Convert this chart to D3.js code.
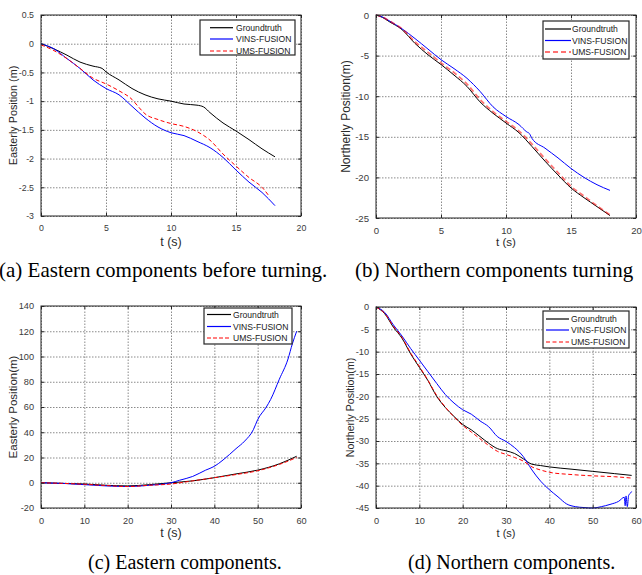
<!DOCTYPE html>
<html>
<head>
<meta charset="utf-8">
<script src="https://cdn.jsdelivr.net/npm/d3@7"></script>
<style>
  body { margin: 0; background: #fff; }
  svg { display: block; }
</style>
</head>
<body>
<div id="chart"></div>
<script>
// ---------------- data ----------------
// (a) easterly position before turning
const tA = [0, 1, 2, 3, 4, 4.7, 5, 6, 7, 8, 9, 10, 11, 12, 12.5, 13, 14, 15, 16, 17, 18];
const gtA = [0, -0.09, -0.2, -0.32, -0.39, -0.43, -0.49, -0.63, -0.78, -0.89, -0.96, -1.0, -1.05, -1.07, -1.1, -1.2, -1.38, -1.52, -1.67, -1.83, -1.97];
const tVinsA = [0, 1, 2, 3, 4, 5, 6, 7, 8, 9, 10, 11, 12, 13, 14, 15, 16, 17, 18];
const vinsA = [0, -0.09, -0.26, -0.43, -0.63, -0.78, -0.89, -1.09, -1.29, -1.45, -1.55, -1.6, -1.7, -1.81, -1.98, -2.2, -2.41, -2.59, -2.82];
const tUmsA = [0, 1, 2, 3, 4, 5, 6, 7, 7.5, 8, 9, 10, 11, 12, 13, 14, 15, 16, 17, 17.6];
const umsA = [-0.02, -0.12, -0.26, -0.43, -0.6, -0.7, -0.82, -0.97, -1.1, -1.22, -1.32, -1.39, -1.44, -1.53, -1.68, -1.92, -2.13, -2.33, -2.5, -2.67];

// (b) northerly position
const tB = [0, 0.5, 1, 2, 3, 4, 5, 6, 7, 8, 9, 10, 11, 12, 13, 14, 15, 16, 17, 18];
const gtB = [0, -0.3, -0.8, -1.8, -3.5, -4.9, -6.1, -7.4, -8.8, -10.7, -12.1, -13.3, -14.5, -16.2, -18, -19.7, -21.3, -22.5, -23.6, -24.7];
const umsB = [0, -0.25, -0.7, -1.7, -3.3, -4.6, -5.9, -7.1, -8.5, -10.4, -11.9, -13.1, -14.3, -15.9, -17.7, -19.4, -21.1, -22.3, -23.5, -24.6];
const tVinsB = [0, 0.5, 1, 2, 3, 4, 5, 6, 7, 8, 9, 10, 11, 11.6, 11.8, 12, 13, 14, 15, 16, 17, 18];
const vinsB = [0, -0.25, -0.7, -1.7, -2.9, -4.2, -5.5, -6.6, -7.8, -9.4, -11.3, -12.5, -13.5, -14.4, -14.6, -15.2, -16.4, -17.6, -18.9, -20, -20.9, -21.6];

// (c) easterly position
const tC = [0, 5, 10, 15, 20, 25, 30, 35, 40, 45, 50, 55, 59];
const gtC = [0, -0.5, -1, -2, -2.5, -1.5, 0, 1.5, 4, 7, 10, 15, 21];
const umsC = [0, -0.5, -1.2, -2.2, -3, -2, -1, 1.5, 4, 6.5, 9.5, 14.5, 20];
const tVinsC = [0, 5, 10, 15, 20, 25, 30, 32, 35, 38, 40, 42, 45, 47, 49, 50, 52, 53, 55, 57, 58, 59];
const vinsC = [0, -0.5, -1.5, -2.5, -3, -2, 0, 2, 5, 10, 13, 18, 27, 33, 42, 50, 60, 66, 82, 98, 110, 120];

// (d) northerly position
const tD = [0, 2, 4, 6, 8, 10, 12, 14, 16, 18, 20, 22, 24, 26, 28, 30, 32, 34, 36, 38, 40, 45, 50, 55, 59];
const gtD = [0, -1.5, -4.5, -7, -10.5, -13.5, -16.5, -20, -22.5, -24.5, -26.3, -27.5, -29, -30.5, -31.7, -32.2, -32.8, -34, -35.2, -35.5, -35.8, -36.3, -36.8, -37.3, -37.7];
const umsD = [0, -1.4, -4.3, -6.8, -10.3, -13.3, -16.4, -19.8, -22.4, -24.6, -26.5, -28, -29.5, -31, -32.3, -33, -33.7, -34.5, -35.8, -36.5, -37, -37.5, -37.8, -38, -38.3];
const tVinsD = [0, 2, 4, 6, 8, 10, 12, 14, 16, 18, 20, 22, 24, 26, 28, 30, 32, 34, 36, 38, 40, 42, 44, 46, 48, 50, 52, 54, 56, 57.3, 57.5, 57.7, 58, 58.3, 58.7, 59];
const vinsD = [0, -1.2, -4, -6.5, -9.3, -11.9, -14.5, -17.1, -19.6, -21.5, -23, -24, -25.5, -26.8, -29, -30.1, -31.5, -33.5, -36.5, -39, -40.9, -42.5, -44.1, -44.7, -44.9, -45, -44.7, -44.2, -43.5, -42.6, -44.5, -42.3, -44.7, -42.2, -41.7, -41.3];

// ticks
const xTicks20 = [0, 5, 10, 15, 20];
const xLabels20 = ["0", "5", "10", "15", "20"];
const xTicks60 = [0, 10, 20, 30, 40, 50, 60];
const xLabels60 = ["0", "10", "20", "30", "40", "50", "60"];
const yTicksA = [0.5, 0, -0.5, -1, -1.5, -2, -2.5, -3];
const yLabelsA = ["0.5", "0", "-0.5", "-1", "-1.5", "-2", "-2.5", "-3"];
const yTicksB = [0, -5, -10, -15, -20, -25];
const yLabelsB = ["0", "-5", "-10", "-15", "-20", "-25"];
const yTicksC = [140, 120, 100, 80, 60, 40, 20, 0, -20];
const yLabelsC = ["140", "120", "100", "80", "60", "40", "20", "0", "-20"];
const yTicksD = [0, -5, -10, -15, -20, -25, -30, -35, -40, -45];
const yLabelsD = ["0", "-5", "-10", "-15", "-20", "-25", "-30", "-35", "-40", "-45"];

const seriesNames = ["Groundtruth", "VINS-FUSION", "UMS-FUSION"];
const captions = ["(a) Eastern components before turning.", "(b) Northern components turning",
                  "(c) Eastern components.", "(d) Northern components."];

// ---------------- drawing ----------------
const W = 642, H = 575;
const SANS = "'Liberation Sans', Arial, sans-serif";
const SERIF = "'Liberation Serif', 'Times New Roman', serif";

const svg = d3.select("#chart").append("svg").attr("width", W).attr("height", H);

const panels = [
  {
    box: [41, 15, 301, 216], xDomain: [0, 20], yDomain: [-3, 0.5],
    xTicks: xTicks20, xLabels: xLabels20, yTicks: yTicksA, yLabels: yLabelsA,
    tickFont: 8.8, xTitleFont: 12.5, yTitleFont: 10.8,
    yTitle: "Easterly Position (m)", yTitleX: 13, xTitleY: 246,
    series: [[tA, gtA], [tVinsA, vinsA], [tUmsA, umsA]],
    umsStyle: { dash: "4,2.5", width: 1, opacity: 1 },
    legend: { x: 200, y: 20, w: 95, h: 35, s0: 10, s1: 33, tx: 36, rows: [7.7, 19, 31] }
  },
  {
    box: [376, 15, 636, 218], xDomain: [0, 20], yDomain: [-25, 0],
    xTicks: xTicks20, xLabels: xLabels20, yTicks: yTicksB, yLabels: yLabelsB,
    tickFont: 9.6, xTitleFont: 11.6, yTitleFont: 12,
    yTitle: "Northerly Position(m)", yTitleX: 346, xTitleY: 246,
    series: [[tB, gtB], [tVinsB, vinsB], [tB, umsB]],
    umsStyle: { dash: "5,3", width: 1.8, opacity: 0.55 },
    legend: { x: 543, y: 21, w: 86, h: 38, s0: 2, s1: 28, tx: 29, rows: [8, 19.5, 31] }
  },
  {
    box: [41, 306, 301, 508], xDomain: [0, 60], yDomain: [-20, 140],
    xTicks: xTicks60, xLabels: xLabels60, yTicks: yTicksC, yLabels: yLabelsC,
    tickFont: 9.2, xTitleFont: 12.5, yTitleFont: 11.5,
    yTitle: "Easterly Position(m)", yTitleX: 13, xTitleY: 537,
    series: [[tC, gtC], [tVinsC, vinsC], [tC, umsC]],
    umsStyle: { dash: "4,2", width: 1, opacity: 1 },
    legend: { x: 204, y: 308, w: 88, h: 36, s0: 3, s1: 27, tx: 29, rows: [6.5, 18.5, 30] }
  },
  {
    box: [376, 307, 636, 508], xDomain: [0, 60], yDomain: [-45, 0],
    xTicks: xTicks60, xLabels: xLabels60, yTicks: yTicksD, yLabels: yLabelsD,
    tickFont: 9.2, xTitleFont: 11, yTitleFont: 10.6,
    yTitle: "Northerly Position(m)", yTitleX: 350, xTitleY: 537,
    series: [[tD, gtD], [tVinsD, vinsD], [tD, umsD]],
    umsStyle: { dash: "4,2.5", width: 1, opacity: 1 },
    legend: { x: 543, y: 311, w: 86, h: 37, s0: 3, s1: 26, tx: 28, rows: [8, 19, 31] }
  }
];

const colors = ["#000000", "#0000ff", "#ff0000"];

panels.forEach(drawPanel);

function drawPanel(p) {
  const [x0, y0, x1, y1] = p.box;
  const x = d3.scaleLinear().domain(p.xDomain).range([x0, x1]);
  const y = d3.scaleLinear().domain(p.yDomain).range([y1, y0]);
  const g = svg.append("g");

  // grid
  g.append("g").attr("transform", `translate(0,${y1})`)
    .call(d3.axisBottom(x).tickValues(p.xTicks).tickSize(-(y1 - y0)).tickFormat(""))
    .call(s => s.select(".domain").remove())
    .selectAll("line").attr("stroke", "#8a8a8a").attr("stroke-dasharray", "1.5,1.5");
  g.append("g").attr("transform", `translate(${x0},0)`)
    .call(d3.axisLeft(y).tickValues(p.yTicks).tickSize(-(x1 - x0)).tickFormat(""))
    .call(s => s.select(".domain").remove())
    .selectAll("line").attr("stroke", "#8a8a8a").attr("stroke-dasharray", "1.5,1.5");

  // lines
  const line = d3.line().x(d => x(d[0])).y(d => y(d[1])).curve(d3.curveMonotoneX);
  p.series.forEach((s, i) => {
    const pts = s[0].map((t, k) => [t, s[1][k]]);
    const path = g.append("path").datum(pts).attr("d", line)
      .attr("fill", "none").attr("stroke", colors[i]).attr("stroke-width", 1);
    if (i === 2) {
      path.attr("stroke-dasharray", p.umsStyle.dash)
        .attr("stroke-width", p.umsStyle.width)
        .attr("stroke-opacity", p.umsStyle.opacity);
    }
  });

  // axes (ticks inward, box around plot)
  const tickStyle = s => {
    s.selectAll("text").attr("font-family", SANS).attr("font-size", p.tickFont + "px").attr("fill", "#3a3a3a");
    s.selectAll("line").attr("stroke", "#262626");
    s.select(".domain").remove();
  };
  g.append("g").attr("transform", `translate(0,${y1})`)
    .call(d3.axisBottom(x).tickValues(p.xTicks).tickFormat((d, i) => p.xLabels[i]).tickSizeInner(-3).tickPadding(9))
    .call(tickStyle);
  g.append("g").attr("transform", `translate(0,${y0})`)
    .call(d3.axisTop(x).tickValues(p.xTicks).tickFormat("").tickSizeInner(-3))
    .call(tickStyle);
  g.append("g").attr("transform", `translate(${x0},0)`)
    .call(d3.axisLeft(y).tickValues(p.yTicks).tickFormat((d, i) => p.yLabels[i]).tickSizeInner(-3).tickPadding(7))
    .call(tickStyle);
  g.append("g").attr("transform", `translate(${x1},0)`)
    .call(d3.axisRight(y).tickValues(p.yTicks).tickFormat("").tickSizeInner(-3))
    .call(tickStyle);
  g.append("rect").attr("x", x0).attr("y", y0).attr("width", x1 - x0).attr("height", y1 - y0)
    .attr("fill", "none").attr("stroke", "#262626").attr("stroke-width", 1);

  // axis titles
  g.append("text").attr("x", (x0 + x1) / 2).attr("y", p.xTitleY).attr("text-anchor", "middle")
    .attr("font-family", SANS).attr("font-size", p.xTitleFont + "px").attr("fill", "#2a2a2a").text("t (s)");
  g.append("text").attr("transform", `translate(${p.yTitleX},${(y0 + y1) / 2}) rotate(-90)`)
    .attr("text-anchor", "middle").attr("dy", "0.35em")
    .attr("font-family", SANS).attr("font-size", p.yTitleFont + "px").attr("fill", "#2a2a2a").text(p.yTitle);

  // legend
  const L = p.legend;
  const lg = g.append("g").attr("class", "legend").attr("transform", `translate(${L.x},${L.y})`);
  lg.append("rect").attr("width", L.w).attr("height", L.h)
    .attr("fill", "#fff").attr("stroke", "#262626").attr("stroke-width", 1.2);
  seriesNames.forEach((name, i) => {
    const ln = lg.append("path").attr("d", `M${L.s0},${L.rows[i]}H${L.s1}`)
      .attr("fill", "none").style("stroke", colors[i]).attr("stroke-width", 1.2);
    if (i === 2) {
      ln.attr("stroke-dasharray", p.umsStyle.dash).attr("stroke-width", p.umsStyle.width)
        .attr("stroke-opacity", p.umsStyle.opacity);
    }
    lg.append("text").attr("x", L.tx).attr("y", L.rows[i]).attr("dy", "0.35em")
      .attr("font-family", SANS).attr("font-size", "8.6px").attr("fill", "#1a1a1a").text(name);
  });
}

// captions
const capPos = [[-1, 277, 21], [355, 277, 21], [88, 569, 20], [408, 569, 20]];
captions.forEach((c, i) => {
  svg.append("text").attr("x", capPos[i][0]).attr("y", capPos[i][1])
    .attr("font-family", SERIF).attr("font-size", capPos[i][2] + "px").attr("fill", "#000").text(c);
});
</script>
</body>
</html>
